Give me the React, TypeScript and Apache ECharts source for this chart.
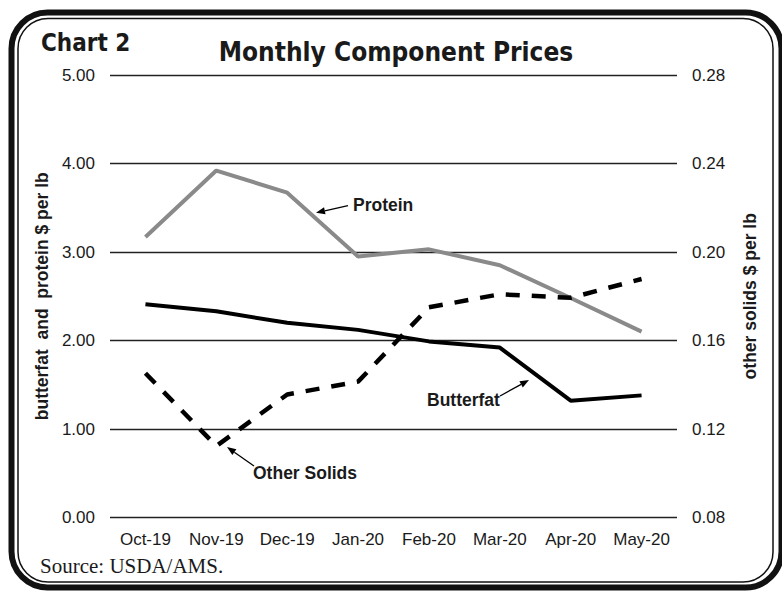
import React, { useEffect, useRef } from "react";
import * as echarts from "echarts";

const categories = ["Oct-19", "Nov-19", "Dec-19", "Jan-20", "Feb-20", "Mar-20", "Apr-20", "May-20"];
const protein = [3.17, 3.92, 3.67, 2.95, 3.03, 2.85, 2.48, 2.1];
const butterfat = [2.41, 2.33, 2.2, 2.12, 1.99, 1.92, 1.32, 1.38];
const otherSolids = [0.1452, 0.1123, 0.1356, 0.1414, 0.175, 0.1809, 0.1793, 0.1878];
const leftTicks = { min: 0, max: 5, interval: 1 };
const rightTicks = { min: 0.08, max: 0.28, interval: 0.04 };

const SANS = "'Liberation Sans', Arial, sans-serif";
const TITLE = "'DejaVu Sans Condensed', 'DejaVu Sans', Verdana, sans-serif";

function arrow(x1: number, y1: number, x2: number, y2: number) {
  const ang = Math.atan2(y2 - y1, x2 - x1);
  const len = 9;
  const w = 3.5;
  const bx = x2 - len * Math.cos(ang);
  const by = y2 - len * Math.sin(ang);
  const px = -Math.sin(ang) * w;
  const py = Math.cos(ang) * w;
  return [
    { type: "line", shape: { x1, y1, x2: bx, y2: by }, style: { stroke: "#000", lineWidth: 1.3 }, z: 10 },
    {
      type: "polygon",
      shape: { points: [[x2, y2], [bx + px, by + py], [bx - px, by - py]] },
      style: { fill: "#000" },
      z: 10,
    },
  ];
}

export default function App() {
  const ref = useRef<HTMLDivElement>(null);
  useEffect(() => {
    if (!ref.current) return;
    const chart = echarts.init(ref.current, null, { renderer: "svg" });
    const option: any = {
      animation: false,
      backgroundColor: "#fff",
      grid: { left: 110, right: 105, top: 75, bottom: 73.5, containLabel: false },
      xAxis: {
        type: "category",
        data: categories,
        boundaryGap: true,
        axisLine: { show: false },
        axisTick: { show: false },
        axisLabel: { color: "#1a1a1a", fontFamily: SANS, fontSize: 17, margin: 13, interval: 0 },
      },
      yAxis: [
        {
          type: "value",
          min: leftTicks.min,
          max: leftTicks.max,
          interval: leftTicks.interval,
          position: "left",
          name: "butterfat  and  protein $ per lb",
          nameLocation: "middle",
          nameGap: 56,
          nameRotate: 90,
          nameTextStyle: { fontFamily: SANS, fontSize: 17.5, fontWeight: "bold", color: "#1a1a1a" },
          axisLine: { show: false },
          axisTick: { show: false },
          axisLabel: { color: "#1a1a1a", fontFamily: SANS, fontSize: 17, margin: 15, formatter: (v: number) => v.toFixed(2) },
          splitLine: { show: true, lineStyle: { color: "#222", width: 1.4 } },
        },
        {
          type: "value",
          min: rightTicks.min,
          max: rightTicks.max,
          interval: rightTicks.interval,
          position: "right",
          name: "other solids $ per lb",
          nameLocation: "middle",
          nameGap: 64,
          nameRotate: 90,
          nameTextStyle: { fontFamily: SANS, fontSize: 17.5, fontWeight: "bold", color: "#1a1a1a" },
          axisLine: { show: false },
          axisTick: { show: false },
          axisLabel: { color: "#1a1a1a", fontFamily: SANS, fontSize: 17, margin: 15, formatter: (v: number) => v.toFixed(2) },
          splitLine: { show: false },
        },
      ],
      series: [
        {
          name: "Protein",
          type: "line",
          data: protein,
          yAxisIndex: 0,
          symbol: "none",
          lineStyle: { color: "#8a8a8a", width: 4 },
          z: 3,
        },
        {
          name: "Butterfat",
          type: "line",
          data: butterfat,
          yAxisIndex: 0,
          symbol: "none",
          lineStyle: { color: "#000", width: 4 },
          z: 4,
        },
        {
          name: "Other Solids",
          type: "line",
          data: otherSolids,
          yAxisIndex: 1,
          symbol: "none",
          lineStyle: { color: "#000", width: 4.5, type: [14, 12] },
          z: 5,
        },
      ],
      graphic: [
        {
          type: "rect",
          shape: { x: 11.5, y: 12.5, width: 770, height: 575, r: 36 },
          style: { fill: "none", stroke: "#111", lineWidth: 6 },
          z: 20,
        },
        {
          type: "rect",
          shape: { x: 18, y: 18.5, width: 755, height: 563.5, r: 30 },
          style: { fill: "none", stroke: "#111", lineWidth: 1.5 },
          z: 20,
        },
        {
          type: "text",
          x: 41,
          y: 43,
          style: { text: "Chart 2", font: `bold 24px ${TITLE}`, fill: "#1a1a1a", align: "left", verticalAlign: "middle" },
          z: 10,
        },
        {
          type: "text",
          x: 396,
          y: 52,
          style: { text: "Monthly Component Prices", font: `bold 26px ${TITLE}`, fill: "#1a1a1a", align: "center", verticalAlign: "middle" },
          z: 10,
        },
        {
          type: "text",
          x: 40,
          y: 566,
          style: { text: "Source: USDA/AMS.", font: `21px 'Liberation Serif', 'Times New Roman', serif`, fill: "#1a1a1a", align: "left", verticalAlign: "middle" },
          z: 10,
        },
        {
          type: "text",
          x: 353,
          y: 205,
          style: { text: "Protein", font: `bold 17.5px ${SANS}`, fill: "#1a1a1a", align: "left", verticalAlign: "middle" },
          z: 10,
        },
        {
          type: "text",
          x: 427,
          y: 399.5,
          style: { text: "Butterfat", font: `bold 17.5px ${SANS}`, fill: "#1a1a1a", align: "left", verticalAlign: "middle" },
          z: 10,
        },
        {
          type: "text",
          x: 253,
          y: 472.5,
          style: { text: "Other Solids", font: `bold 17.5px ${SANS}`, fill: "#1a1a1a", align: "left", verticalAlign: "middle" },
          z: 10,
        },
        ...arrow(348, 205.7, 316, 212.7),
        ...arrow(500, 396, 529, 380),
        ...arrow(254, 466, 227, 447),
      ],
    };
    chart.setOption(option);
    return () => chart.dispose();
  }, []);
  return (
    <div
      ref={ref}
      style={{ position: "fixed", left: 0, top: 0, width: 782, height: 591, background: "#fff" }}
    />
  );
}
